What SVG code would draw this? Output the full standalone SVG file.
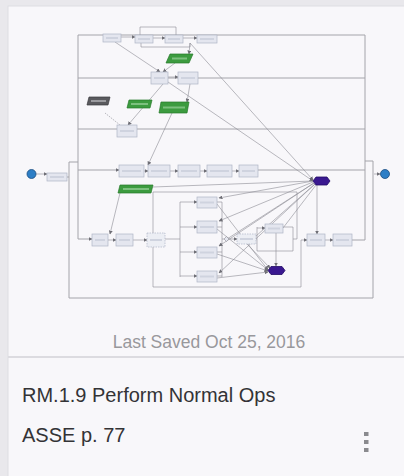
<svg xmlns="http://www.w3.org/2000/svg" width="404" height="476" viewBox="0 0 404 476">
<defs>
<style>
.f{fill:none;stroke:#a4a4aa;stroke-width:1}
.c{fill:none;stroke:#8c8c93;stroke-width:0.6}
.a{marker-end:url(#ah)}
.n{fill:#e4e6ef;stroke:#b0b5c6;stroke-width:0.7}
.nt{fill:#cfd3df}
.nd{fill:#eceef4;stroke:#b0b5c6;stroke-width:0.7;stroke-dasharray:1.5 1}
.g{fill:#3c9b3f;stroke:#257a29;stroke-width:0.7}
.gt{fill:#7cc07e}
.h{fill:#3a1890;stroke:#220a66;stroke-width:0.8}
.e{fill:#2d7ec6;stroke:#1a4d80;stroke-width:0.8}
.big{font-family:"Liberation Sans",Arial,sans-serif;font-size:20px;fill:#333336}
.sv{font-family:"Liberation Sans",Arial,sans-serif;font-size:17.5px;fill:#98989c}
</style>
<marker id="ah" markerWidth="4" markerHeight="4" refX="3.5" refY="2" orient="auto" markerUnits="userSpaceOnUse">
<path d="M0,0 L4,2 L0,4 Z" fill="#6e6e75"/>
</marker>
</defs>
<rect x="0" y="0" width="404" height="476" fill="#e9e8ec"/>
<rect x="8" y="6" width="400" height="476" fill="#f8f7fa" stroke="#dedde2" stroke-width="1"/>
<line x1="8" y1="357" x2="404" y2="357" stroke="#dcdbe0" stroke-width="2"/>

<g id="connectors">
<!-- pool frame -->
<path class="f" d="M78,239 V35 H365 V240"/>
<path class="f" d="M78,78 H365 M78,129 H365"/>
<path class="f a" d="M78,170 H119"/>
<path class="f" d="M258,170 H365"/>
<path class="f a" d="M78,239 H92"/>
<path class="f" d="M352,240 H365"/>
<path class="f" d="M67,177 H69 M78,162 H69 V298 H373 V161 H365"/>
<path class="c a" d="M36,174 H47"/>
<path class="c a" d="M374,174 H380"/>
<!-- top lane -->
<path class="c a" d="M121,37 H135"/>
<path class="c a" d="M153,38 H165"/>
<path class="c a" d="M183,38 H197"/>
<path class="c" d="M140,35 V27 H176 V35"/>
<path class="c" d="M141,43 V47 H190 V43"/>
<path class="c a" d="M115,42 L160,72"/>
<path class="c a" d="M190,43 L189,54"/>
<path class="c a" d="M175,63 L163,72"/>
<path class="c a" d="M168,77 H178"/>
<path class="c a" d="M190,84 L187,102"/>
<path class="c a" d="M163,84 L128,125"/>
<path class="c a" d="M172,113 L148,165"/>
<path class="c" stroke-dasharray="1.5 1" d="M105,113 L120,125"/>
<path class="c a" d="M190,43 L313,180"/>
<path class="c a" d="M168,82 L313,181"/>
<!-- row 1 -->
<path class="c a" d="M144,171 H148"/>
<path class="c a" d="M170,171 H178"/>
<path class="c a" d="M200,171 H207"/>
<path class="c a" d="M232,171 H239"/>
<path class="c a" d="M120,193 L110,234"/>
<path class="c" d="M153,187 L313,181"/>
<!-- bottom row -->
<path class="c a" d="M108,240 H116"/>
<path class="c a" d="M133,240 H147"/>
<path class="c" d="M165,239 H180 M180,202 V277"/>
<path class="c a" d="M180,202 H197"/>
<path class="c a" d="M180,227 H197"/>
<path class="c a" d="M180,252 H197"/>
<path class="c a" d="M180,276 H197"/>
<path class="c" d="M217,202 H222 M217,227 H222 M217,252 H222 M217,276 H222 M222,202 V277 M222,239 H224"/>
<path class="c a" d="M229,239 H237"/>
<path class="c" d="M153,192 H297 V239 H293"/>
<path class="c" d="M153,192 V287 H301 V240"/>
<path class="c a" d="M301,240 H307"/>
<path class="c a" d="M325,240 H333"/>
<path class="c" d="M256,239 H257 M257,227 V251 H293 V227 H283"/>
<path class="c a" d="M257,228 H265"/>
<path class="c a" d="M276,233 V266"/>
<path class="c a" d="M317,185 V234"/>
<!-- top event fan -->
<path class="c a" d="M313,181 L219,198"/>
<path class="c a" d="M313,182 L219,221"/>
<path class="c a" d="M314,183 L219,246"/>
<path class="c a" d="M315,184 L219,273"/>
<path class="c" d="M314,183 L227,239"/>
<path class="c" d="M315,184 L256,236"/>
<path class="c" d="M316,185 L283,228"/>
<!-- bottom event fan -->
<path class="c a" d="M217,204 L268,270"/>
<path class="c a" d="M217,229 L268,270"/>
<path class="c a" d="M217,254 L268,271"/>
<path class="c a" d="M217,278 L268,272"/>
<path class="c a" d="M247,244 L270,268"/>
</g>

<g id="start"><circle class="e" cx="31.5" cy="174" r="4.5"/></g>
<g id="end"><circle class="e" cx="385" cy="174" r="4.5"/></g>
<g id="n-init"><rect class="n" x="47" y="173" width="20" height="8"/><rect class="nt" x="50" y="176" width="14" height="2"/></g>

<g id="t1"><rect class="n" x="103" y="34" width="18" height="8"/><rect class="nt" x="106" y="37" width="12" height="2"/></g>
<g id="t2"><rect class="n" x="135" y="35" width="18" height="8"/><rect class="nt" x="138" y="38" width="12" height="2"/></g>
<g id="t3"><rect class="n" x="165" y="35" width="18" height="8"/><rect class="nt" x="168" y="38" width="12" height="2"/></g>
<g id="t4"><rect class="n" x="197" y="35" width="20" height="8"/><rect class="nt" x="200" y="38" width="14" height="2"/></g>
<g id="g1"><polygon class="g" points="170,54 193,54 189,63 166,63"/><rect class="gt" x="172" y="57.5" width="15" height="2"/></g>
<g id="m1"><rect class="n" x="151" y="72" width="17" height="12"/><rect class="nt" x="154" y="77" width="11" height="2"/></g>
<g id="m2"><rect class="n" x="178" y="72" width="20" height="12"/><rect class="nt" x="181" y="77" width="14" height="2"/></g>
<g id="gr"><polygon fill="#5a5a5e" stroke="#3a3a3e" stroke-width="0.7" points="89,97 110,97 108,105 87,105"/><rect fill="#9a9a9e" x="91" y="100" width="15" height="2"/></g>
<g id="g2"><polygon class="g" points="129,100 152,100 150,108 127,108"/><rect class="gt" x="131" y="103" width="17" height="2"/></g>
<g id="g3"><polygon class="g" points="161,102 189,102 187,113 159,113"/><rect class="gt" x="163" y="106.5" width="22" height="2"/></g>
<g id="l3"><rect class="n" x="117" y="125" width="20" height="12"/><rect class="nt" x="120" y="130" width="14" height="2"/></g>

<g id="r1"><rect class="n" x="119" y="165" width="25" height="12"/><rect class="nt" x="122" y="170" width="19" height="2"/></g>
<g id="r2"><rect class="n" x="148" y="165" width="22" height="12"/><rect class="nt" x="151" y="170" width="16" height="2"/></g>
<g id="r3"><rect class="n" x="178" y="165" width="22" height="12"/><rect class="nt" x="181" y="170" width="16" height="2"/></g>
<g id="r4"><rect class="n" x="207" y="165" width="25" height="12"/><rect class="nt" x="210" y="170" width="19" height="2"/></g>
<g id="r5"><rect class="n" x="239" y="165" width="19" height="12"/><rect class="nt" x="242" y="170" width="13" height="2"/></g>
<g id="grow"><polygon class="g" points="120,185 153,185 151,193 118,193"/><rect class="gt" x="123" y="188" width="26" height="2"/></g>

<g id="b1"><rect class="n" x="92" y="234" width="16" height="12"/><rect class="nt" x="95" y="239" width="10" height="2"/></g>
<g id="b2"><rect class="n" x="116" y="234" width="17" height="12"/><rect class="nt" x="119" y="239" width="11" height="2"/></g>
<g id="b3"><rect class="nd" x="147" y="233" width="18" height="14"/><rect class="nt" x="150" y="239" width="12" height="2"/></g>
<g id="p1"><rect class="n" x="197" y="197" width="20" height="11"/><rect class="nt" x="200" y="201.5" width="14" height="2"/></g>
<g id="p2"><rect class="n" x="197" y="221" width="20" height="12"/><rect class="nt" x="200" y="226" width="14" height="2"/></g>
<g id="p3"><rect class="n" x="197" y="247" width="20" height="11"/><rect class="nt" x="200" y="251.5" width="14" height="2"/></g>
<g id="p4"><rect class="n" x="197" y="271" width="20" height="11"/><rect class="nt" x="200" y="275.5" width="14" height="2"/></g>
<g id="gw"><polygon fill="#e4e6ef" stroke="#8c8c93" stroke-width="0.6" points="226.5,236.5 229,239 226.5,241.5 224,239"/></g>
<g id="d1"><rect class="nd" x="237" y="234" width="19" height="10"/><rect class="nt" x="240" y="238" width="13" height="2"/></g>
<g id="lp"><rect class="n" x="265" y="224" width="18" height="9"/><rect class="nt" x="268" y="227.5" width="12" height="2"/></g>
<g id="e1"><rect class="n" x="307" y="234" width="18" height="12"/><rect class="nt" x="310" y="239" width="12" height="2"/></g>
<g id="e2"><rect class="n" x="333" y="234" width="19" height="12"/><rect class="nt" x="336" y="239" width="13" height="2"/></g>
<g id="hx1"><polygon class="h" points="313,181 316,177 327,177 330,181 327,185 316,185"/></g>
<g id="hx2"><polygon class="h" points="268,270.5 271,266.5 282,266.5 285,270.5 282,274.5 271,274.5"/></g>

<text class="sv" x="209" y="348" text-anchor="middle">Last Saved Oct 25, 2016</text>
<text class="big" x="22" y="402">RM.1.9 Perform Normal Ops</text>
<text class="big" x="22" y="442">ASSE p. 77</text>
<g id="menu" fill="#8a8a8e">
<rect x="364" y="432" width="4.5" height="4"/>
<rect x="364" y="440" width="4.5" height="4"/>
<rect x="364" y="448" width="4.5" height="4"/>
</g>
</svg>
